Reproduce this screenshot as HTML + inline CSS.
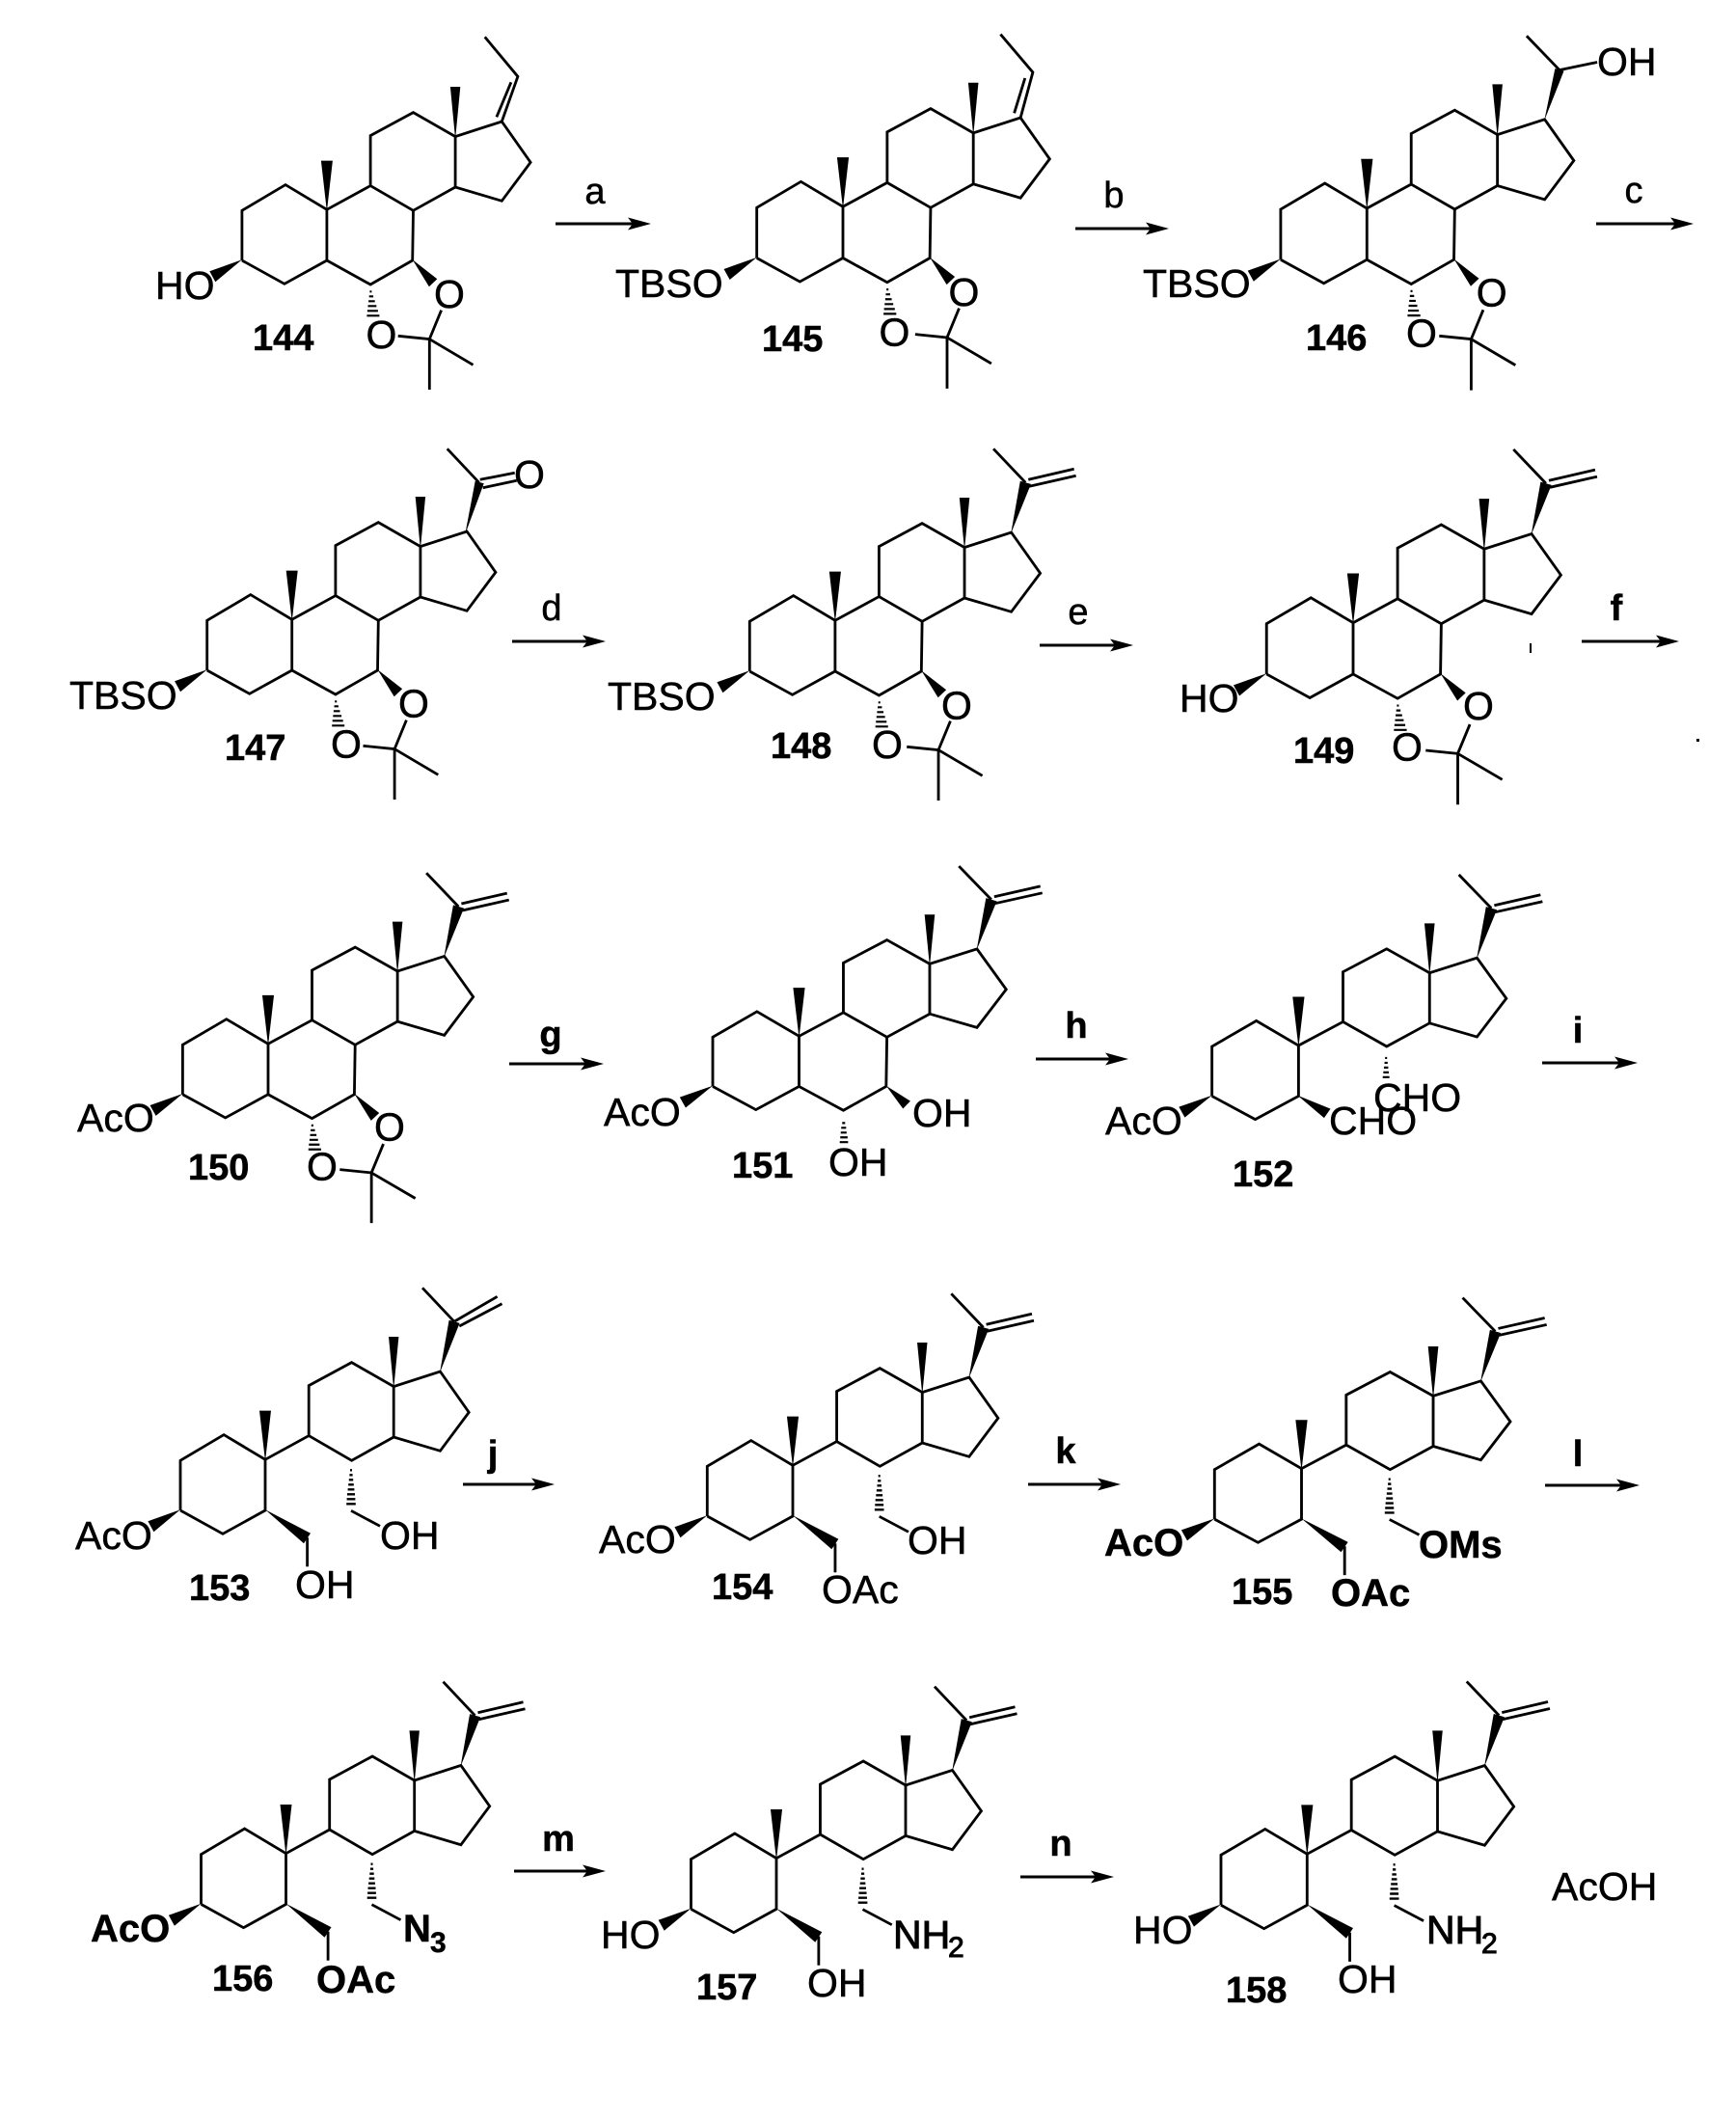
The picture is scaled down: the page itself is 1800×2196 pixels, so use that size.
<!DOCTYPE html>
<html><head><meta charset="utf-8"><style>
html,body{margin:0;padding:0;background:#fff}
svg{display:block}
text{font-family:"Liberation Sans",Arial,sans-serif;fill:#000;stroke:#000;stroke-width:.5px}
.t{font-size:41px}
.tb{font-size:40px;font-weight:bold}
.n{font-size:38px;font-weight:bold}
.l{font-size:38px;text-anchor:middle}
.lb{font-size:38px;font-weight:bold;text-anchor:middle}
.o{font-size:41px;text-anchor:middle}
.s{font-size:30px}
.sb{font-size:30px;font-weight:bold}
.k{fill:none;stroke:#000;stroke-width:2.8;stroke-linejoin:miter;stroke-linecap:butt}
.f{fill:#000;stroke:none}
.a{stroke:#000;stroke-width:3}
</style></head><body>
<svg width="1800" height="2196" viewBox="0 0 1800 2196" xmlns="http://www.w3.org/2000/svg">
<rect width="1800" height="2196" fill="#fff"/>
<defs>
<g id="common">
<path class="k" d="M-88,52.7 L-88,1 L-42.9,-25.7 L0,0 L0,52.7 L-44,77 L-88,52.7"/>
<path class="k" d="M0,0 L45.2,-24.7 L45.2,-76.7 L89.6,-100.7 L133.2,-75.7 L181.4,-91.3 L211.2,-49 L181.4,-9 L133.2,-23.3 L89.6,1 L45.2,-24.7"/>
<path class="k" d="M133.2,-75.7 L133.2,-23.3"/>
<polygon class="f" points="0,2 -6,-50.7 6,-50.7"/>
<polygon class="f" points="133.2,-73 128,-127.3 138.4,-127.3"/>
<polygon class="f" points="-88,52 -115.6,75 -121.6,64"/>
</g>
<g id="full">
<use href="#common"/>
<path class="k" d="M0,52.7 L45.2,77.7 L88.8,52.7 L89.6,1"/>
</g>
<g id="acet">
<polygon class="f" points="88.8,52 106,80 114.4,72"/>
<path class="k" style="stroke-width:2.2" d="M44.5,85H46.5M43.8,90H48.2M43.2,95H49.8M42.6,100H51.4M42,105H53M41.5,110H54.5"/>
<path class="k" d="M118.7,104.3 L106.4,134.3 M73.8,131 L106.4,134.3 L151.6,161 M106.4,134.3 L106.4,186.7"/>
</g>
<g id="seco">
<use href="#common"/>
</g>
<g id="long">
<polygon class="f" points="0,52 40,87 47,76.5"/>
<path class="k" d="M43.6,81 L43.6,111"/>
<path class="k" style="stroke-width:2.4" d="M88,11H90M87.4,16H90.6M86.8,21H91.2M86.2,26H91.8M85.6,31H92.4M85,36H93M84.6,41H93.4M84.2,46H93.8"/>
<path class="k" d="M89,53 L119,69"/>
</g>
<g id="w20"><polygon class="f" points="181,-90 201.6,-141.4 190.6,-144.6"/><path class="k" d="M196,-143 L163,-178"/></g>
<g id="dbl"><path class="k" d="M199,-146 L246,-157 M200,-139 L248,-150"/></g>
<polygon id="h" points="-24,-6.5 0,0 -24,6.5 -19,0" fill="#000"/>
</defs>

<!-- 144 -->
<g transform="translate(338.9,217.3)"><use href="#full"/><use href="#acet"/>
<path class="k" d="M181.4,-91.3 L198,-138 L163.8,-179 M176,-96 L191,-132"/></g>
<text class="t" x="161" y="310">HO</text><text class="n" x="262" y="363">144</text>
<text class="o" x="466" y="319">O</text><text class="o" x="395.5" y="361">O</text>
<!-- 145 -->
<g transform="translate(874,214.3) scale(1.015,1.01)"><use href="#full"/><use href="#acet"/>
<path class="k" d="M181.4,-91.3 L194,-138 L161,-177 M175,-96 L186,-132"/></g>
<text class="t" x="638" y="308">TBSO</text><text class="n" x="790" y="364">145</text>
<text class="o" x="999.5" y="317">O</text><text class="o" x="927.5" y="358.5">O</text>
<!-- 146 -->
<g transform="translate(1417.3,216) scale(1.016,1.01)"><use href="#full"/><use href="#acet"/>
<polygon class="f" points="181,-90 201,-141 192,-143.5"/><path class="k" d="M196.5,-142 L163,-177 M196.5,-142 L235,-150"/></g>
<text class="t" x="1185" y="308">TBSO</text><text class="n" x="1354" y="363">146</text>
<text class="t" x="1656" y="78">OH</text>
<text class="o" x="1546.7" y="317.5">O</text><text class="o" x="1474" y="359.5">O</text>
<!-- 147 -->
<g transform="translate(302.7,642.3)"><use href="#full"/><use href="#acet"/>
<polygon class="f" points="179.5,-88 199,-141 190,-143.5"/><path class="k" d="M194,-142 L161,-177 M195,-145 L231,-152 M198,-136.6 L233,-144"/></g>
<text class="t" x="72" y="735">TBSO</text><text class="n" x="233" y="788">147</text>
<text class="o" x="549" y="506">O</text>
<text class="o" x="429" y="743.5">O</text><text class="o" x="359" y="785.5">O</text>
<!-- 148 -->
<g transform="translate(865.9,643.3) scale(1.007,1)"><use href="#full"/><use href="#acet"/><use href="#w20"/><use href="#dbl"/></g>
<text class="t" x="630" y="736">TBSO</text><text class="n" x="799" y="786">148</text>
<text class="o" x="992" y="745.5">O</text><text class="o" x="920" y="786">O</text>
<!-- 149 -->
<g transform="translate(1403,645.7) scale(1.02,1.01)"><use href="#full"/><use href="#acet"/><use href="#w20"/><use href="#dbl"/></g>
<text class="t" x="1223" y="738">HO</text><text class="n" x="1341" y="791">149</text>
<text class="o" x="1533" y="746">O</text><text class="o" x="1459" y="788.5">O</text>
<rect x="1586" y="667" width="2" height="10" fill="#000"/><rect x="1759" y="766" width="3" height="3" fill="#000"/>
<!-- 150 -->
<g transform="translate(278,1082.3) scale(1.007,.995)"><use href="#full"/><use href="#acet"/><use href="#w20"/><use href="#dbl"/></g>
<text class="t" x="80" y="1173">AcO</text><text class="n" x="195" y="1223">150</text>
<text class="o" x="404" y="1182.5">O</text><text class="o" x="334" y="1223.5">O</text>
<!-- 151 -->
<g transform="translate(828.5,1074.3) scale(1.017,.99)"><use href="#full"/>
<polygon class="f" points="88.8,52 106,76 113.5,68"/>
<path class="k" style="stroke-width:2.2" d="M44,91H47M43,96H48M42.5,101H48.5M42,106H49.5M41.5,111H50"/><use href="#w20"/><use href="#dbl"/></g>
<text class="t" x="626" y="1167">AcO</text><text class="t" x="946" y="1168">OH</text><text class="t" x="859" y="1219">OH</text><text class="n" x="759" y="1221">151</text>
<!-- 152 -->
<g transform="translate(1346.4,1084) scale(1.02,.995)"><use href="#seco"/>
<polygon class="f" points="-1,52 26,75.5 32.5,66"/>
<path class="k" style="stroke-width:2.2" d="M88,13H90M87.4,18H90.6M86.8,23H91.2M86.2,28H91.8M85.6,33H92.4"/><use href="#w20"/><use href="#dbl"/></g>
<text class="t" x="1146" y="1176">AcO</text><text class="t" x="1378" y="1176">CHO</text><text class="t" x="1424" y="1152">CHO</text><text class="n" x="1278" y="1230">152</text>
<!-- 153 -->
<g transform="translate(275,1513.3)"><use href="#seco"/><use href="#long"/><use href="#w20"/>
<path class="k" d="M196.4,-143.3 L240.6,-169 M201.3,-138.3 L245.5,-161.6"/></g>
<text class="t" x="78" y="1606">AcO</text><text class="t" x="306" y="1657">OH</text><text class="t" x="394" y="1606">OH</text><text class="n" x="196" y="1659">153</text>
<!-- 154 -->
<g transform="translate(822,1519.3) scale(1.008,1)"><use href="#seco"/><use href="#long"/><use href="#w20"/><use href="#dbl"/></g>
<text class="t" x="621" y="1610">AcO</text><text class="t" x="941" y="1611">OH</text><text class="t" x="852" y="1662">OAc</text><text class="n" x="738" y="1658">154</text>
<!-- 155 -->
<g transform="translate(1349.5,1522.7) scale(1.025,.995)"><use href="#seco"/><use href="#long"/><use href="#w20"/><use href="#dbl"/></g>
<text class="tb" x="1145" y="1613">AcO</text><text class="tb" x="1380" y="1665">OAc</text><text class="tb" x="1471" y="1615">OMs</text><text class="n" x="1277" y="1663">155</text>
<!-- 156 -->
<g transform="translate(296.5,1921.7)"><use href="#seco"/><use href="#long"/><use href="#w20"/><use href="#dbl"/></g>
<text class="tb" x="94" y="2013">AcO</text><text class="tb" x="328" y="2066">OAc</text><text class="tb" x="418" y="2013">N</text><text class="sb" x="446" y="2024">3</text><text class="n" x="220" y="2064">156</text>
<!-- 157 -->
<g transform="translate(805,1926.7) scale(1.006,1)"><use href="#seco"/><use href="#long"/><use href="#w20"/><use href="#dbl"/></g>
<text class="t" x="623" y="2020">HO</text><text class="t" x="926" y="2020" style="stroke-width:1px">NH</text><text class="s" x="983" y="2029" style="stroke-width:1px">2</text><text class="t" x="837" y="2070">OH</text><text class="n" x="722" y="2073">157</text>
<!-- 158 -->
<g transform="translate(1355.3,1922.3) scale(1.015,1.005)"><use href="#seco"/><use href="#long"/><use href="#w20"/><use href="#dbl"/></g>
<text class="t" x="1175" y="2015">HO</text><text class="t" x="1479" y="2015" style="stroke-width:1px">NH</text><text class="s" x="1536" y="2025" style="stroke-width:1px">2</text><text class="t" x="1387" y="2066">OH</text><text class="n" x="1271" y="2076">158</text>
<text class="t" x="1609" y="1970">AcOH</text>

<!-- arrows -->
<g class="a">
<line x1="576" y1="232" x2="660" y2="232"/><line x1="1115" y1="237" x2="1198" y2="237"/><line x1="1655" y1="232" x2="1740" y2="232"/>
<line x1="531" y1="665" x2="612" y2="665"/><line x1="1078" y1="669" x2="1160" y2="669"/><line x1="1640" y1="665" x2="1725" y2="665"/>
<line x1="528" y1="1103" x2="610" y2="1103"/><line x1="1074" y1="1098" x2="1155" y2="1098"/><line x1="1599" y1="1102" x2="1684" y2="1102"/>
<line x1="480" y1="1539" x2="560" y2="1539"/><line x1="1066" y1="1539" x2="1147" y2="1539"/><line x1="1602" y1="1540" x2="1685" y2="1540"/>
<line x1="533" y1="1940" x2="614" y2="1940"/><line x1="1058" y1="1946" x2="1140" y2="1946"/>
</g>
<use href="#h" x="675" y="232"/><use href="#h" x="1212" y="237"/><use href="#h" x="1756" y="232"/>
<use href="#h" x="628" y="665"/><use href="#h" x="1175" y="669"/><use href="#h" x="1741" y="665"/>
<use href="#h" x="626" y="1103"/><use href="#h" x="1170" y="1098"/><use href="#h" x="1698" y="1102"/>
<use href="#h" x="575" y="1539"/><use href="#h" x="1162" y="1539"/><use href="#h" x="1700" y="1540"/>
<use href="#h" x="628" y="1940"/><use href="#h" x="1155" y="1946"/>

<text class="l" x="617" y="211">a</text><text class="l" x="1155" y="215">b</text><text class="l" x="1694" y="210">c</text>
<text class="l" x="572" y="643">d</text><text class="l" x="1118" y="647">e</text><text class="lb" x="1676" y="643">f</text>
<text class="lb" x="571" y="1085">g</text><text class="lb" x="1116" y="1076">h</text><text class="lb" x="1636" y="1081">i</text>
<text class="lb" x="511" y="1520">j</text><text class="lb" x="1105" y="1517">k</text><text class="lb" x="1636" y="1520">l</text>
<text class="lb" x="579" y="1919">m</text><text class="lb" x="1100" y="1924">n</text>
</svg>
</body></html>
